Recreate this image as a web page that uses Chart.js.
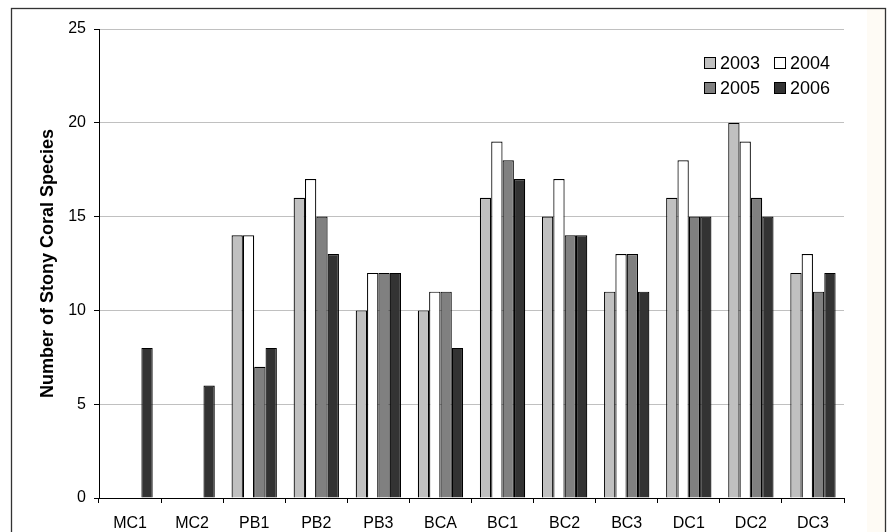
<!DOCTYPE html>
<html>
<head>
<meta charset="utf-8">
<script src="https://cdn.jsdelivr.net/npm/chart.js@4/dist/chart.umd.min.js"></script>
<style>
	html, body { margin: 0; padding: 0; background: #fff; }
	#myChart { display: block; }
</style>
</head>
<body>
<canvas id="myChart" width="889" height="532"></canvas>
<script>
var sites = ['MC1', 'MC2', 'PB1', 'PB2', 'PB3', 'BCA', 'BC1', 'BC2', 'BC3', 'DC1', 'DC2', 'DC3'];	//調査地点
var years = ['2003', '2004', '2005', '2006'];	//凡例
var val_2003 = [0, 0, 14, 16, 10, 10, 16, 15, 11, 16, 20, 12];
var val_2004 = [0, 0, 14, 17, 12, 11, 19, 17, 13, 18, 19, 13];
var val_2005 = [0, 0, 7, 15, 12, 11, 18, 14, 13, 15, 16, 11];
var val_2006 = [8, 6, 8, 13, 12, 8, 17, 14, 11, 15, 15, 12];
var y_ticks = [0, 5, 10, 15, 20, 25];

var colors = ['#c0c0c0', '#ffffff', '#808080', '#333333'];
var font_name = '"Liberation Sans", Arial, sans-serif';

Chart.defaults.color = '#000';
Chart.defaults.font.family = font_name;

/* 外枠 */
var frame_plugin = {
	id: 'frame',
	beforeDraw: function(chart) {
		var c = chart.ctx;
		c.save();
		c.fillStyle = '#ffffff';
		c.fillRect(0, 0, chart.width, chart.height);
		c.fillStyle = '#fefbf5';
		c.fillRect(867, 9, 18, chart.height);
		c.strokeStyle = '#333';
		c.lineWidth = 1.3;
		c.strokeRect(11.5, 8.5, 874, 600);
		c.restore();
	}
};

/* 凡例（2列） */
var legend_plugin = {
	id: 'legend2',
	afterDraw: function(chart) {
		var c = chart.ctx;
		var a = chart.chartArea;
		c.save();
		c.font = '18px ' + font_name;
		c.textBaseline = 'middle';
		c.textAlign = 'left';
		chart.data.datasets.forEach(function(ds, i) {
			var x = a.right - 140 + (i % 2) * 70;
			var y = a.top + 34 + Math.floor(i / 2) * 25;
			c.fillStyle = ds.backgroundColor;
			c.fillRect(x + 0.5, y - 5.5, 11, 11);
			c.strokeStyle = '#000';
			c.lineWidth = 1;
			c.strokeRect(x + 0.5, y - 5.5, 11, 11);
			c.fillStyle = '#000';
			c.fillText(ds.label, x + 16, y + 1);
		});
		c.restore();
	}
};

var all_vals = [val_2003, val_2004, val_2005, val_2006];
var datasets = years.map(function(y, i) {
	return {
		label: y,
		data: all_vals[i],
		backgroundColor: colors[i],
		borderColor: '#000',
		borderWidth: 1.2,
		categoryPercentage: 0.73,
		barPercentage: 1.0
	};
});

var ctx = document.getElementById('myChart').getContext('2d');
var myChart = new Chart(ctx, {
	type: 'bar',
	data: { labels: sites, datasets: datasets },
	plugins: [frame_plugin, legend_plugin],
	options: {
		responsive: false,
		animation: false,
		devicePixelRatio: 1,
		layout: { padding: { left: 0, top: 29, right: 45, bottom: 0 } },
		plugins: {
			legend: { display: false },
			tooltip: { enabled: false }
		},
		scales: {
			x: {
				offset: true,
				grid: { offset: true, drawOnChartArea: false, drawTicks: true, tickLength: 5, tickColor: '#000', lineWidth: 1 },
				border: { color: '#000', width: 1 },
				ticks: { font: { size: 16 }, padding: 11, maxRotation: 0, autoSkip: false },
				afterFit: function(s) { s.height = 34; }
			},
			y: {
				min: 0,
				max: 25,
				afterBuildTicks: function(s) { s.ticks = y_ticks.map(function(v) { return { value: v }; }); },
				grid: { color: '#c0c0c0', lineWidth: 1, drawTicks: true, tickLength: 5, tickColor: '#000' },
				border: { color: '#000', width: 1 },
				ticks: { font: { size: 16 }, padding: 8 },
				title: {
					display: true,
					text: 'Number of Stony Coral Species',
					font: { size: 18, weight: 'bold' },
					padding: { top: 37, bottom: 0 }
				},
				afterFit: function(s) { s.width = 99; }
			}
		}
	}
});
</script>
</body>
</html>
